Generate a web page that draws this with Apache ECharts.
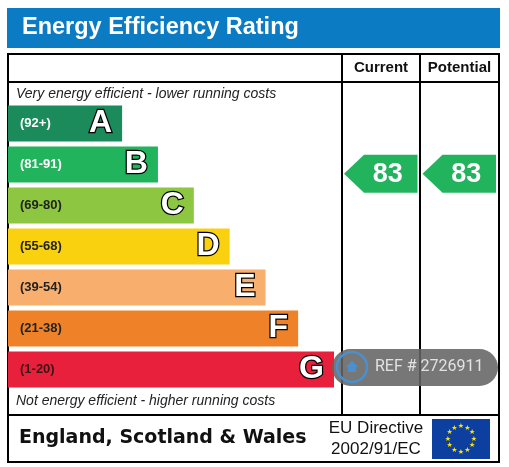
<!DOCTYPE html>
<html>
<head>
<meta charset="utf-8">
<script src="https://cdn.jsdelivr.net/npm/echarts@6/dist/echarts.min.js"></script>
<style>
  html, body { margin: 0; padding: 0; background: #fff; }
  #main { width: 509px; height: 467px; }
</style>
</head>
<body>
<div id="main"></div>
<script>
// rating bands, top (best) to bottom (worst)
var bandLetters = ['A', 'B', 'C', 'D', 'E', 'F', 'G'];
var bandRanges = ['(92+)', '(81-91)', '(69-80)', '(55-68)', '(39-54)', '(21-38)', '(1-20)'];
var bandMin = [92, 81, 69, 55, 39, 21, 1];
var bandMax = [100, 91, 80, 68, 54, 38, 20];
var bandLength = [35, 46, 57, 68, 79, 89, 100];
var bandColors = ['#1b8b5b', '#22b45d', '#8dc640', '#f9d10f', '#f8ae6c', '#ef8128', '#e9203b'];
var rangeTextColors = ['#fff', '#fff', '#222', '#222', '#222', '#222', '#3a1515'];

// columns and their ratings
var columns = ['Current', 'Potential'];
var ratings = [83, 83];

var FONT = '"Liberation Sans", Arial, sans-serif';

function bandOf(v) {
    for (var i = 0; i < bandMin.length; i++) {
        if (v >= bandMin[i]) return i;
    }
    return bandMin.length - 1;
}

var myChart = echarts.init(document.getElementById('main'));

var barData = bandLength.map(function (v, i) {
    return { value: v, itemStyle: { color: bandColors[i] }, label: { color: rangeTextColors[i] } };
});

// the 12 stars of the EU flag
var stars = [];
for (var k = 0; k < 12; k++) {
    var a = k * Math.PI / 6;
    stars.push({
        type: 'text', z: 10,
        style: {
            text: '\u2605', x: 461 + 13 * Math.sin(a), y: 439 - 13 * Math.cos(a),
            fill: '#ffe500', font: '7px "DejaVu Sans"',
            textAlign: 'center', textVerticalAlign: 'middle'
        }
    });
}

var option = {
    animation: false,
    grid: [
        { left: 8, top: 103, width: 326, height: 287 },
        { left: 342, top: 103, width: 157, height: 287 }
    ],
    xAxis: [
        { gridIndex: 0, type: 'value', min: 0, max: 100, show: false },
        { gridIndex: 1, type: 'category', data: columns, show: false }
    ],
    yAxis: [
        { gridIndex: 0, type: 'category', data: bandLetters, inverse: true, show: false },
        { gridIndex: 1, type: 'category', data: bandLetters, inverse: true, show: false }
    ],
    graphic: [
        // title bar
        { type: 'rect', shape: { x: 7, y: 8, width: 493, height: 40 }, style: { fill: '#0b7cc3' } },
        { type: 'text', style: { text: 'Energy Efficiency Rating', x: 22, y: 28, fill: '#fff',
            font: 'bold 23.5px ' + FONT, textVerticalAlign: 'middle' } },
        // table frame
        { type: 'rect', shape: { x: 8, y: 54, width: 491, height: 408 },
            style: { fill: 'none', stroke: '#000', lineWidth: 2 } },
        { type: 'line', shape: { x1: 8, y1: 82, x2: 499, y2: 82 }, style: { stroke: '#000', lineWidth: 2 } },
        { type: 'line', shape: { x1: 8, y1: 415, x2: 499, y2: 415 }, style: { stroke: '#000', lineWidth: 2 } },
        { type: 'line', shape: { x1: 342, y1: 54, x2: 342, y2: 415 }, style: { stroke: '#000', lineWidth: 2 } },
        { type: 'line', shape: { x1: 420, y1: 54, x2: 420, y2: 415 }, style: { stroke: '#000', lineWidth: 2 } },
        { type: 'text', style: { text: 'Current', x: 381, y: 68, fill: '#111',
            font: 'bold 15px ' + FONT, textAlign: 'center', textVerticalAlign: 'middle' } },
        { type: 'text', style: { text: 'Potential', x: 459.5, y: 68, fill: '#111',
            font: 'bold 15px ' + FONT, textAlign: 'center', textVerticalAlign: 'middle' } },
        { type: 'text', style: { text: 'Very energy efficient - lower running costs', x: 16, y: 94, fill: '#222',
            font: 'italic 14px ' + FONT, textVerticalAlign: 'middle' } },
        { type: 'text', style: { text: 'Not energy efficient - higher running costs', x: 16, y: 401, fill: '#222',
            font: 'italic 14px ' + FONT, textVerticalAlign: 'middle' } },
        // footer
        { type: 'text', style: { text: 'England, Scotland & Wales', x: 19, y: 438, fill: '#111',
            font: 'bold 19px "DejaVu Sans", Verdana, sans-serif', textVerticalAlign: 'middle' } },
        { type: 'text', style: { text: 'EU Directive', x: 376, y: 428, fill: '#111',
            font: '17px ' + FONT, textAlign: 'center', textVerticalAlign: 'middle' } },
        { type: 'text', style: { text: '2002/91/EC', x: 376, y: 449, fill: '#111',
            font: '17px ' + FONT, textAlign: 'center', textVerticalAlign: 'middle' } },
        { type: 'rect', shape: { x: 432, y: 419, width: 58, height: 40 }, style: { fill: '#0c3fa0' } }
    ].concat(stars).concat([
        // reference watermark
        { type: 'rect', z: 100, shape: { x: 332, y: 349, width: 166, height: 37, r: 18.5 },
            style: { fill: 'rgba(100,100,100,0.88)' } },
        { type: 'circle', z: 101, shape: { cx: 352, cy: 367, r: 15 },
            style: { fill: 'none', stroke: '#4a90cc', lineWidth: 2.5 } },
        { type: 'polygon', z: 101, shape: { points: [[346, 367], [352, 361], [358, 367], [356, 367], [356, 372], [348, 372], [348, 367]] },
            style: { fill: '#4a90cc' } },
        { type: 'text', z: 101, style: { text: 'REF # 2726911', x: 375, y: 367, fill: '#e2e2e2',
            font: '16px Roboto, sans-serif', textVerticalAlign: 'middle' } }
    ]),
    series: [
        {
            type: 'bar',
            xAxisIndex: 0, yAxisIndex: 0,
            data: barData,
            barWidth: 36,
            label: {
                show: true,
                position: 'insideLeft',
                distance: 12,
                formatter: function (p) { return bandRanges[p.dataIndex]; },
                fontFamily: 'Liberation Sans',
                fontWeight: 'bold',
                fontSize: 13,
                color: '#fff'
            }
        },
        {
            type: 'bar',
            xAxisIndex: 0, yAxisIndex: 0,
            data: bandLength,
            barWidth: 36,
            barGap: '-100%',
            itemStyle: { color: 'transparent' },
            label: {
                show: true,
                position: 'insideRight',
                distance: 10,
                formatter: function (p) { return bandLetters[p.dataIndex]; },
                fontFamily: 'Liberation Sans',
                fontWeight: 'bold',
                fontSize: 32,
                color: '#fff',
                textBorderColor: '#000',
                textBorderWidth: 2.5
            }
        },
        {
            type: 'custom',
            xAxisIndex: 1, yAxisIndex: 1,
            data: ratings.map(function (r, i) { return [i, r]; }),
            renderItem: function (params, api) {
                var col = api.value(0), rating = api.value(1);
                var b = bandOf(rating);
                var c = api.coord([col, b]);
                var cw = api.size([1, 0])[0];
                var bh = api.size([0, 1])[1];
                var mid = (bandMin[b] + bandMax[b]) / 2;
                var cy = c[1] + (mid - rating) / (bandMax[b] - bandMin[b] + 1) * bh - 2;
                var h = 38, d = 20;
                var x0 = c[0] - cw / 2 + 2, x1 = c[0] + cw / 2 - 3;
                return {
                    type: 'group',
                    children: [
                        { type: 'polygon',
                          shape: { points: [[x0, cy], [x0 + d, cy - h / 2], [x1, cy - h / 2], [x1, cy + h / 2], [x0 + d, cy + h / 2]] },
                          style: { fill: bandColors[b] } },
                        { type: 'text',
                          style: { text: String(rating), x: (x0 + d + x1) / 2 - 3, y: cy + 1,
                                   fill: '#fff', font: 'bold 27px "Liberation Sans"',
                                   align: 'center', verticalAlign: 'middle' } }
                    ]
                };
            }
        }
    ]
};

myChart.setOption(option);
</script>
</body>
</html>
